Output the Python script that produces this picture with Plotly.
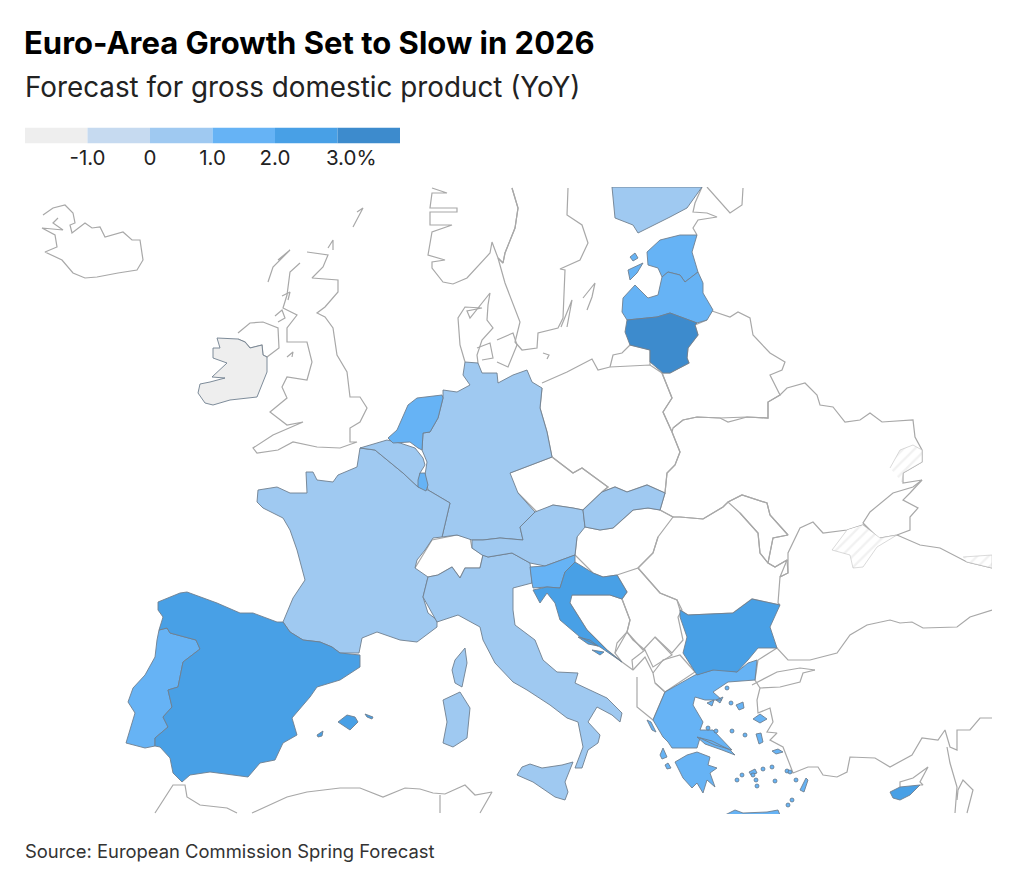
import numpy as np
import plotly.graph_objects as go

# =====================================================================
# 1. FORECAST VALUES (bin by bin)
# =====================================================================
COUNTRIES = ["Ireland", "Germany", "France", "Italy", "Austria", "Belgium", "Slovakia", "Finland",
             "Netherlands", "Luxembourg", "Portugal", "Estonia", "Latvia", "Slovenia", "Greece",
             "Spain", "Croatia", "Bulgaria", "Cyprus", "Lithuania"]
GROWTH = [-1.3, 0.6, 0.7, 0.6, 0.5, 0.7, 0.9, 0.9,
          1.1, 1.5, 1.8, 1.5, 1.5, 1.4, 1.7,
          2.2, 2.4, 2.4, 2.4, 3.1]

BIN_EDGES = [-1, 0, 1, 2, 3]
BIN_COLORS = ["#eeeeee", "#c6daf0", "#9fc9f1", "#66b3f5", "#48a0e6", "#3d8bcd"]
LEGEND_TICKS = [-1, 0, 1, 2, 3.22]
LEGEND_LABELS = ["-1.0", "0", "1.0", "2.0", "3.0%"]
LEGEND_BINS = [-2, -1, 0, 1, 2, 3]

# =====================================================================
# 2. OUTLINES, traced from the map (map units, y runs down)
# =====================================================================
SPAIN = [(158,602),(180,593),(187,592),(217,603),(240,613),(253,613),(277,622),(283,622),(290,632),(303,640),(320,642),(332,647),(340,653),(360,655),(360,667),(340,680),(317,687),(310,697),(292,718),(297,735),(283,743),(275,760),(260,763),(248,777),(233,775),(210,772),(190,775),(182,782),(173,773),(170,758),(160,747),(155,746),(155,738),(168,727),(163,717),(172,707),(168,690),(178,687),(183,662),(200,649),(196,640),(170,633),(167,628),(159,630),(163,617),(158,610)]
MALLORCA = [(338,722),(347,715),(355,717),(358,722),(350,730)]
MENORCA = [(365,714),(373,717),(372,719),(367,717)]
IBIZA = [(317,735),(323,731),(322,736),(318,737)]
PORTUGAL = [(159,630),(167,628),(170,633),(196,640),(200,649),(183,662),(178,687),(168,690),(172,707),(163,717),(168,727),(155,738),(155,746),(145,748),(126,743),(135,713),(128,702),(133,688),(145,675),(155,657),(157,640)]
FRANCE = [(258,490),(277,487),(290,493),(307,493),(306,472),(313,472),(317,480),(333,482),(338,475),(357,467),(360,448),(375,450),(403,473),(418,487),(428,490),(450,503),(442,537),(433,538),(425,550),(417,560),(415,568),(428,577),(423,597),(428,613),(437,620),(437,627),(417,642),(400,640),(377,632),(362,638),(359,653),(340,653),(332,647),(320,642),(303,640),(290,632),(283,622),(293,598),(305,580),(297,550),(290,530),(283,518),(263,508),(257,502)]
CORSICA = [(465,648),(467,663),(462,687),(455,683),(452,670),(455,660)]
BELGIUM = [(360,448),(387,440),(400,443),(415,448),(423,458),(425,465),(420,473),(418,487),(403,473),(375,450)]
LUXEMBOURG = [(420,473),(425,473),(428,485),(426,491),(418,487),(418,480)]
NETHERLANDS = [(408,405),(417,398),(442,395),(443,398),(438,418),(430,432),(423,433),(422,450),(418,448),(410,442),(393,443),(388,438),(397,430)]
GERMANY = [(465,362),(478,363),(482,373),(497,373),(498,383),(513,375),(527,370),(532,382),(542,388),(540,408),(547,432),(552,457),(510,473),(518,493),(535,512),(520,527),(523,540),(500,538),(483,540),(472,540),(457,535),(442,537),(450,503),(428,490),(425,475),(427,462),(422,450),(423,433),(430,432),(438,418),(443,398),(443,390),(457,392),(470,385),(463,375)]
AUSTRIA = [(535,512),(553,505),(573,508),(583,510),(585,527),(577,537),(575,555),(545,566),(530,563),(512,553),(488,557),(482,555),(472,548),(472,540),(483,540),(500,538),(523,540),(520,527)]
ITALY = [(483,555),(488,557),(512,553),(530,563),(532,583),(513,588),(513,610),(515,625),(535,640),(543,660),(557,672),(578,673),(575,683),(607,698),(622,713),(620,722),(612,715),(597,707),(588,722),(600,735),(598,743),(588,750),(582,768),(575,768),(583,747),(578,722),(567,718),(550,705),(527,690),(513,682),(495,663),(483,640),(480,627),(458,615),(437,622),(423,597),(428,577),(438,575),(452,567),(460,578),(465,568),(480,568)]
SICILY = [(517,775),(522,767),(530,764),(542,768),(562,765),(573,762),(565,782),(568,792),(565,800),(555,797),(533,782)]
SARDINIA = [(443,700),(460,692),(470,708),(467,738),(453,747),(443,743),(447,722)]
SLOVENIA = [(530,567),(545,566),(575,555),(575,562),(565,572),(560,588),(547,587),(533,588),(532,583)]
CROATIA = [(575,562),(593,573),(603,577),(617,575),(627,592),(622,599),(610,595),(572,595),(570,603),(587,630),(607,650),(622,662),(600,647),(580,637),(560,620),(555,603),(547,593),(540,603),(533,590),(547,587),(560,588),(565,572)]
DALMATIA_A = [(578,637),(590,640),(598,646),(588,644)]
DALMATIA_B = [(592,650),(604,652),(600,655)]
SLOVAKIA = [(583,510),(602,492),(615,487),(627,492),(647,485),(665,493),(660,510),(648,508),(633,510),(613,528),(600,530),(585,527)]
FINLAND = [(612,187),(615,218),(633,225),(638,233),(670,217),(687,208),(702,187)]
ESTONIA = [(680,235),(660,240),(647,252),(648,265),(658,268),(662,277),(668,272),(680,275),(685,282),(698,272),(692,252),(697,235)]
SAAREMAA = [(628,270),(643,263),(637,273),(630,280)]
HIIUMAA = [(630,257),(635,253),(638,258),(633,261)]
LATVIA = [(622,312),(623,298),(635,285),(648,298),(658,295),(662,277),(668,272),(680,275),(685,282),(698,272),(703,283),(703,293),(713,310),(707,320),(697,323),(670,313),(657,317),(627,320)]
LITHUANIA = [(627,320),(657,317),(670,313),(697,323),(695,325),(698,335),(688,348),(687,358),(689,363),(670,373),(663,373),(650,362),(650,350),(630,345),(625,332)]
BULGARIA = [(680,610),(688,615),(733,613),(752,599),(780,605),(770,627),(777,648),(758,648),(748,660),(737,672),(713,670),(697,675),(683,653),(687,637),(680,617)]
GREECE = [(720,668),(737,672),(748,663),(757,660),(755,680),(728,682),(713,692),(722,700),(705,700),(695,697),(693,705),(703,722),(700,730),(713,730),(732,750),(715,745),(700,738),(697,748),(680,748),(672,748),(668,742),(663,737),(653,720),(665,692),(695,675)]
PELOPONNESE = [(675,762),(687,755),(697,752),(710,757),(708,765),(717,768),(710,773),(715,787),(707,780),(703,793),(697,783),(692,788),(683,778)]
EVIA = [(697,737),(712,741),(730,750),(735,755),(722,750),(705,744)]
CHALKIDIKI_A = [(707,703),(714,700),(712,706)]
CHALKIDIKI_B = [(716,700),(723,697),(720,703)]
CRETE = [(725,815),(735,810),(743,813),(767,812),(778,810),(780,815)]
LESBOS = [(753,719),(760,714),(767,719),(760,723)]
LIMNOS = [(736,705),(743,702),(744,708),(739,710)]
CHIOS = [(756,734),(761,733),(763,742),(759,744)]
SAMOS = [(772,751),(778,749),(783,752),(776,754)]
RHODES = [(800,790),(806,778),(808,780),(804,792)]
CORFU = [(647,720),(651,722),(656,732),(652,730)]
KEFALONIA = [(660,755),(663,748),(667,757),(662,759)]
ZAKYNTHOS = [(665,765),(668,763),(671,768),(667,769)]
NAXOS = [(749,772),(755,769),(757,773),(751,775)]
CYPRUS = [(890,792),(900,787),(920,785),(910,795),(900,800),(893,798)]
IRELAND = [(217,338),(238,339),(245,342),(250,348),(262,345),(263,355),(267,357),(267,372),(257,397),(230,400),(213,405),(205,403),(198,393),(200,384),(210,382),(225,378),(212,377),(227,363),(213,358),(213,348),(220,348)]

GREEK_ISLETS_X = [727, 731, 708, 716, 732, 745, 753, 763, 772, 775, 787, 790, 792, 788, 737, 756, 742, 757, 796]
GREEK_ISLETS_Y = [688, 703, 728, 731, 731, 735, 775, 769, 767, 781, 771, 772, 800, 805, 780, 780, 775, 786, 780]

ICELAND = [(43,215),(53,208),(65,205),(73,213),(75,223),(70,225),(72,233),(85,223),(92,228),(100,227),(105,237),(123,232),(132,240),(140,240),(143,260),(137,270),(118,273),(97,277),(85,278),(73,273),(62,260),(45,252),(57,247),(55,235),(42,228),(63,230),(53,223),(58,218)]
N_IRELAND = [(238,333),(250,323),(263,322),(278,328),(279,348),(267,357),(263,355),(262,345),(250,348),(245,342),(238,339)]
BRITAIN = [(307,252),(328,255),(323,267),(312,278),(338,280),(338,292),(325,307),(317,313),(325,317),(333,328),(337,355),(347,372),(350,397),(360,397),(367,408),(360,422),(350,428),(350,442),(357,442),(340,448),(317,447),(293,442),(278,450),(257,453),(253,448),(273,435),(303,422),(287,425),(270,412),(287,398),(282,387),(287,377),(307,380),(312,362),(307,342),(287,342),(287,328),(297,315),(283,308),(287,295),(290,272),(300,263)]
OUTER_ISLES = [(268,282),(273,267),(290,250),(278,260)]
MAN = [(287,357),(293,352),(292,357)]
ISLAY = [(275,316),(282,310),(285,318),(278,322)]
MULL = [(282,296),(290,292),(288,300)]
SHETLAND = [(353,227),(363,208),(357,212)]
ORKNEY = [(328,248),(333,240),(333,250)]
NORWAY = [(432,188),(447,193),(432,193),(430,208),(457,208),(457,212),(430,212),(430,225),(452,225),(432,232),(428,255),(445,260),(432,262),(432,268),(443,282),(453,284),(467,278),(482,262),(490,253),(492,242),(498,258),(503,263),(505,253),(515,228),(518,208),(512,188)]
SWEDEN = [(512,188),(518,208),(515,228),(505,253),(503,263),(498,258),(505,283),(517,315),(520,322),(515,342),(522,350),(537,348),(538,333),(558,328),(563,318),(565,270),(560,269),(580,260),(588,243),(582,225),(567,215),(568,188)]
GOTLAND = [(583,298),(595,283),(592,297),(587,310)]
OLAND = [(561,327),(572,300),(567,327)]
JUTLAND = [(465,362),(460,345),(458,318),(465,307),(482,308),(467,311),(470,318),(490,293),(488,305),(487,320),(493,328),(482,340),(477,355),(478,363)]
FUNEN = [(477,348),(490,343),(493,358),(482,360)]
ZEALAND = [(497,340),(513,333),(517,345),(508,367),(497,362)]
BORNHOLM = [(543,353),(549,355),(547,359)]
CZECHIA = [(510,473),(552,457),(573,473),(582,468),(608,487),(602,492),(583,510),(573,508),(553,505),(538,513),(518,493)]
HUNGARY = [(585,527),(600,530),(613,528),(633,510),(648,508),(660,510),(673,517),(658,537),(653,553),(638,568),(617,575),(603,577),(593,573),(575,555),(577,537)]
POLAND = [(542,383),(567,372),(592,359),(598,370),(610,367),(650,365),(662,373),(672,398),(663,412),(672,432),(680,452),(675,465),(667,473),(665,493),(647,485),(627,492),(615,487),(602,492),(608,487),(582,468),(573,473),(552,457),(547,432),(540,408),(542,388)]
KALININGRAD = [(610,367),(613,355),(622,353),(630,345),(650,350),(650,365)]
BELARUS = [(712,311),(730,317),(738,312),(750,318),(753,335),(770,353),(785,362),(782,370),(770,375),(780,395),(768,402),(768,418),(747,417),(728,422),(720,418),(697,417),(683,420),(673,428),(672,432),(663,412),(672,398),(662,373),(670,373),(689,363),(687,358),(688,348),(698,335),(695,325),(707,320)]
UKRAINE = [(673,428),(683,420),(697,417),(720,418),(747,417),(768,418),(768,402),(780,395),(787,388),(805,383),(817,395),(820,405),(833,407),(845,422),(860,420),(870,413),(882,422),(913,420),(915,437),(922,450),(922,462),(903,473),(903,483),(922,480),(913,487),(893,493),(870,512),(863,523),(880,540),(863,525),(847,530),(823,533),(813,522),(800,528),(788,553),(788,573),(780,577),(787,560),(775,567),(768,563),(773,538),(788,535),(770,515),(767,503),(742,495),(728,502),(723,507),(703,519),(680,517),(673,517),(660,510),(665,493),(667,473),(675,465),(680,452),(672,432)]
MOLDOVA = [(728,502),(742,495),(767,503),(770,515),(788,535),(773,538),(768,563),(760,553),(758,533),(740,513)]
ROMANIA = [(673,517),(680,517),(703,519),(723,507),(728,502),(740,513),(758,533),(760,553),(768,563),(775,567),(787,560),(788,573),(780,577),(778,603),(780,605),(752,599),(733,613),(688,615),(680,610),(677,600),(660,593),(638,568),(653,553),(658,537)]
SWITZERLAND = [(415,568),(420,560),(432,540),(457,535),(470,538),(472,548),(483,555),(480,568),(465,568),(460,578),(452,567),(438,575),(428,577)]
BOSNIA = [(572,595),(610,595),(622,599),(630,620),(627,632),(617,643),(615,653),(622,662),(607,650),(587,630),(570,603)]
SERBIA = [(638,568),(660,593),(677,600),(682,610),(678,617),(683,640),(672,653),(655,637),(643,650),(627,632),(630,620),(622,599),(627,592),(617,575)]
KOSOVO = [(655,637),(672,655),(653,667),(645,650)]
MONTENEGRO = [(615,653),(627,632),(633,640),(645,650),(632,660),(633,670),(622,662)]
N_MACEDONIA = [(653,673),(663,660),(680,655),(695,672),(665,692),(655,683)]
ALBANIA = [(633,670),(645,657),(653,673),(655,683),(665,692),(653,720),(637,707),(637,677)]
TURKEY = [(992,610),(970,617),(957,627),(923,628),(912,622),(900,623),(890,620),(867,625),(850,635),(837,653),(810,660),(788,660),(777,648),(758,660),(755,680),(760,688),(757,700),(758,713),(770,708),(773,722),(767,732),(777,733),(770,740),(783,747),(790,765),(793,773),(808,767),(818,767),(823,775),(837,777),(847,772),(850,757),(875,758),(890,767),(912,755),(922,738),(938,740),(945,730),(950,747),(957,750),(957,730),(970,730),(980,718),(992,718)]
MARMARA_N = [(752,685),(777,672),(800,668),(815,670)]
MARMARA_S = [(760,688),(780,687),(800,682),(803,673),(815,670)]
N_CYPRUS = [(900,787),(900,782),(913,778),(928,767),(920,782),(923,785),(920,785)]
LEVANT_A = [(955,813),(957,787),(950,763),(947,747)]
LEVANT_B = [(967,813),(973,790),(963,780),(958,790),(957,800)]
MOROCCO = [(155,813),(173,785),(185,785),(187,797),(200,805),(227,808),(237,813)]
ALGERIA = [(252,813),(287,797),(307,792),(340,788),(360,788),(383,797),(405,788),(420,789),(433,793),(445,794),(465,785),(475,795),(492,792),(480,813)]
TUNISIA_WEST = [(440,795),(440,813)]
RUSSIA_COAST = [(697,235),(693,228),(698,220),(717,217),(707,213),(693,212),(695,203),(702,187)]
LADOGA = [(707,187),(730,213),(742,205),(743,188)]
AZOV_COAST = [(880,538),(897,535),(910,530),(910,517),(918,508),(903,500),(910,493),(922,480)]
RUSSIA_BLACK_SEA = [(897,535),(920,545),(940,548),(967,562),(992,568)]

CRIMEA = [(847,530),(832,550),(850,555),(853,568),(863,567),(877,547),(897,535),(880,538),(863,525)]
DONBAS = [(890,468),(900,450),(913,445),(922,450),(922,462),(903,473),(902,482)]
ABKHAZIA = [(963,557),(992,555),(992,568),(967,562)]

FILLED = {
    "Ireland": [IRELAND],
    "Germany": [GERMANY],
    "France": [FRANCE, CORSICA],
    "Italy": [ITALY, SICILY, SARDINIA],
    "Austria": [AUSTRIA],
    "Belgium": [BELGIUM],
    "Slovakia": [SLOVAKIA],
    "Finland": [FINLAND],
    "Netherlands": [NETHERLANDS],
    "Luxembourg": [LUXEMBOURG],
    "Portugal": [PORTUGAL],
    "Estonia": [ESTONIA, SAAREMAA, HIIUMAA],
    "Latvia": [LATVIA],
    "Slovenia": [SLOVENIA],
    "Greece": [GREECE, PELOPONNESE, EVIA, CHALKIDIKI_A, CHALKIDIKI_B, CRETE, LESBOS, LIMNOS, CHIOS, SAMOS,
               RHODES, CORFU, KEFALONIA, ZAKYNTHOS, NAXOS],
    "Spain": [SPAIN, MALLORCA, MENORCA, IBIZA],
    "Croatia": [CROATIA, DALMATIA_A, DALMATIA_B],
    "Bulgaria": [BULGARIA],
    "Cyprus": [CYPRUS],
    "Lithuania": [LITHUANIA],
}
NO_DATA = [ICELAND, N_IRELAND, BRITAIN, OUTER_ISLES, MAN, ISLAY, MULL, SHETLAND, ORKNEY, NORWAY, SWEDEN,
           GOTLAND, OLAND, JUTLAND, FUNEN, ZEALAND, BORNHOLM, CZECHIA, HUNGARY, POLAND, KALININGRAD,
           BELARUS, UKRAINE, MOLDOVA, ROMANIA, SWITZERLAND, BOSNIA, SERBIA, KOSOVO, MONTENEGRO,
           N_MACEDONIA, ALBANIA, TURKEY, MARMARA_N, MARMARA_S, N_CYPRUS, LEVANT_A, LEVANT_B, MOROCCO,
           ALGERIA, TUNISIA_WEST, RUSSIA_COAST, LADOGA, AZOV_COAST, RUSSIA_BLACK_SEA]
HATCHED = [CRIMEA, DONBAS, ABKHAZIA]


def join_parts(parts):
    # one trace per country: parts split by None so they stay separate rings
    xs, ys = [], []
    for ring in parts:
        xs += [p[0] for p in ring] + [None]
        ys += [p[1] for p in ring] + [None]
    return xs, ys


def close_ring(ring):
    return ring + [ring[0]]


def bin_color(value):
    return BIN_COLORS[int(np.digitize(value, BIN_EDGES))]


# =====================================================================
# 3. BUILD THE FIGURE
# =====================================================================
fig = go.Figure()

# countries without a forecast: grey outline only
for ring in NO_DATA:
    xs, ys = join_parts([ring])
    fig.add_trace(go.Scatter(x=xs, y=ys, mode="lines", line=dict(color="#a8a8a8", width=1.2),
                             hoverinfo="skip", showlegend=False))

for ring in HATCHED:
    xs, ys = join_parts([ring])
    fig.add_trace(go.Scatter(x=xs, y=ys, mode="lines", fill="toself", fillcolor="white",
                             fillpattern=dict(shape="/", fgcolor="#e4e4e4", bgcolor="white", size=8, solidity=0.3),
                             line=dict(color="#b5b5b5", width=0.5), hoverinfo="skip", showlegend=False))

for name, value in zip(COUNTRIES, GROWTH):
    xs, ys = join_parts([close_ring(r) for r in FILLED[name]])
    fig.add_trace(go.Scatter(x=xs, y=ys, mode="lines", fill="toself", fillcolor=bin_color(value),
                             line=dict(color="#6f7f8e", width=0.9), name=name,
                             hovertemplate=f"{name}: {value}%<extra></extra>", showlegend=False))

fig.add_trace(go.Scatter(x=GREEK_ISLETS_X, y=GREEK_ISLETS_Y, mode="markers",
                         marker=dict(size=4, color=bin_color(GROWTH[COUNTRIES.index("Greece")]),
                                     line=dict(color="#5f6f7e", width=0.7)),
                         hoverinfo="skip", showlegend=False))

# colour key: one stacked segment per bin
for start, color in zip(LEGEND_BINS, BIN_COLORS):
    fig.add_trace(go.Bar(x=[1], y=[0], base=[start], orientation="h", marker=dict(color=color, line=dict(width=0)),
                         width=1, xaxis="x2", yaxis="y2", hoverinfo="skip", showlegend=False))

fig.update_layout(
    width=1027,
    height=874,
    margin=dict(l=0, r=0, t=0, b=0),
    paper_bgcolor="white",
    plot_bgcolor="white",
    barmode="overlay",
    font=dict(family="Inter", color="#111111"),
    title=dict(text="<b>Euro-Area Growth Set to Slow in 2026</b>", x=24 / 1027, xanchor="left",
               y=1 - 43 / 874, yanchor="middle", font=dict(family="Inter", size=31, color="#000000")),
    xaxis=dict(domain=[0, 992 / 1027], range=[0, 992], visible=False),
    yaxis=dict(domain=[1 - 814 / 874, 1 - 187 / 874], range=[814, 187], visible=False),
    xaxis2=dict(domain=[25 / 1027, 400 / 1027], range=[-2, 4], anchor="y2", tickvals=LEGEND_TICKS,
                ticktext=LEGEND_LABELS, ticks="", showgrid=False, zeroline=False, showline=False,
                tickfont=dict(size=20.5, color="#222222")),
    yaxis2=dict(domain=[1 - 143.5 / 874, 1 - 127.5 / 874], range=[-0.5, 0.5], visible=False),
    annotations=[
        dict(text="Forecast for gross domestic product (YoY)", xref="paper", yref="paper", x=24 / 1027,
             y=1 - 87 / 874, xanchor="left", yanchor="middle", showarrow=False, xshift=-1,
             font=dict(size=27.8, color="#222222")),
        dict(text="Source: European Commission Spring Forecast", xref="paper", yref="paper", x=24 / 1027,
             y=1 - 851 / 874, xanchor="left", yanchor="middle", showarrow=False, xshift=-1,
             font=dict(size=18.4, color="#333333")),
    ],
)

fig.write_html("out.html", config={"displayModeBar": False},
               post_script="document.body.style.margin='0';window.dispatchEvent(new Event('resize'));")
